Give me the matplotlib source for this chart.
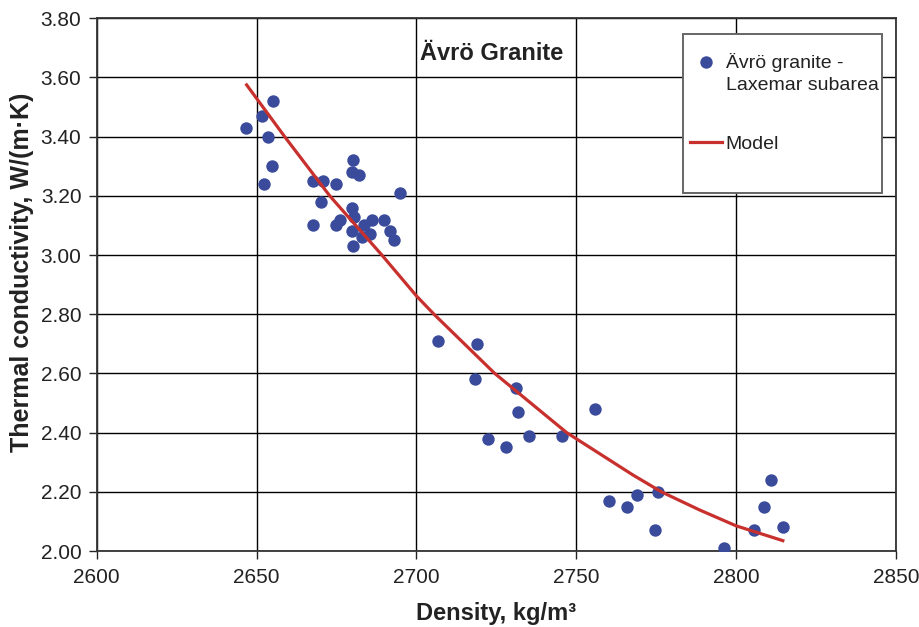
import numpy as np
import matplotlib
matplotlib.use('Agg')
import matplotlib.pyplot as plt
from matplotlib.patches import Rectangle

plt.rcParams['font.family'] = ['Liberation Sans', 'DejaVu Sans']

# measured density / conductivity pairs
density = [2655.3, 2651.8, 2646.6, 2653.7, 2680.3, 2654.8, 2679.8, 2681.9, 2667.5, 2670.8,
           2675.0, 2652.2, 2694.9, 2670.2, 2679.8, 2680.6, 2686.1, 2689.9, 2676.2, 2674.8,
           2667.7, 2683.6, 2691.8, 2680.0, 2685.5, 2683.0, 2692.9, 2680.3,
           2706.7, 2718.9, 2718.2, 2731.2, 2731.7, 2756.0, 2722.3, 2735.3, 2745.4, 2728.0,
           2760.1, 2766.0, 2769.1, 2775.5, 2774.7, 2796.1, 2811.0, 2808.8, 2805.5, 2814.8]
conductivity = [3.52, 3.47, 3.43, 3.40, 3.32, 3.30, 3.28, 3.27, 3.25, 3.25,
                3.24, 3.24, 3.21, 3.18, 3.16, 3.13, 3.12, 3.12, 3.12, 3.10,
                3.10, 3.10, 3.08, 3.08, 3.07, 3.06, 3.05, 3.03,
                2.71, 2.70, 2.58, 2.55, 2.47, 2.48, 2.38, 2.39, 2.39, 2.35,
                2.17, 2.15, 2.19, 2.20, 2.07, 2.01, 2.24, 2.15, 2.07, 2.08]

# model curve
model_x = [2646.9, 2658.8, 2672.9, 2689.2, 2700.0, 2705.5, 2724.5, 2747.0,
           2767.7, 2776.6, 2788.5, 2800.0, 2814.6]
model_y = [3.575, 3.40, 3.20, 3.00, 2.862, 2.80, 2.60, 2.40,
           2.257, 2.20, 2.139, 2.085, 2.035]

xticks = [2600, 2650, 2700, 2750, 2800, 2850]
yticks = [2.00, 2.20, 2.40, 2.60, 2.80, 3.00, 3.20, 3.40, 3.60, 3.80]

fig = plt.figure(figsize=(9.19, 6.27), dpi=100)
ax = fig.add_axes([0.1052, 0.1212, 0.8698, 0.8496])

ax.scatter(density, conductivity, s=80, color='#3a4b9c', zorder=3,
           label='Ävrö granite -\nLaxemar subarea', linewidths=0)
ax.plot(model_x, model_y, color='#c8302e', lw=2.3, zorder=4, label='Model')

ax.set_xlim(2600, 2850)
ax.set_ylim(2.0, 3.8)
ax.set_xticks(xticks)
ax.set_yticks(yticks)
ax.set_yticklabels(['%.2f' % v for v in yticks])
ax.grid(True, color='black', lw=1.0)
ax.set_axisbelow(True)
ax.tick_params(labelsize=15, length=6, width=1, colors='#222222', direction='out')
ax.tick_params(axis='x', pad=6)
ax.tick_params(axis='y', pad=5)
for s in ax.spines.values():
    s.set_linewidth(1.3)
    s.set_color('#333333')

ax.set_xlabel('Density, kg/m³', fontsize=17, fontweight='bold', labelpad=11, color='#222222')
ax.set_ylabel('Thermal conductivity, W/(m·K)', fontsize=18, fontweight='bold',
              color='#222222')
ax.yaxis.set_label_coords(-0.078, 0.523)

ax.text(0.494, 0.933, 'Ävrö Granite', transform=ax.transAxes, fontsize=17,
        fontweight='bold', ha='center', va='center', color='#222222')

# legend frame drawn as its own box
ax.add_patch(Rectangle((0.7335, 0.672), 0.249, 0.2985, transform=ax.transAxes,
                       facecolor='white', edgecolor='#666666', lw=1.4, zorder=5))
leg = ax.legend(loc='upper left', bbox_to_anchor=(0.742, 0.935), fontsize=14,
                frameon=False, labelspacing=2.1, borderpad=0, borderaxespad=0,
                handlelength=1.65, handletextpad=0.2, scatteryoffsets=[1.34])
leg.set_zorder(6)
for t in leg.get_texts():
    t.set_color('#222222')
    t.set_linespacing(1.4)

fig.savefig('out.png', dpi=100)
